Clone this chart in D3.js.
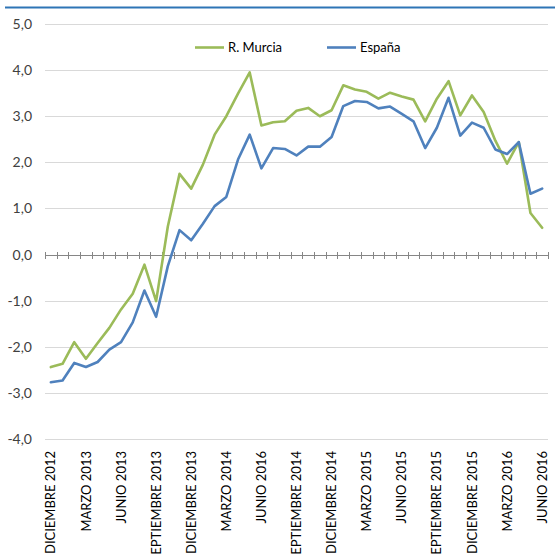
<!DOCTYPE html>
<html><head><meta charset="utf-8">
<script src="https://cdn.jsdelivr.net/npm/d3@7"></script>
<style>
html,body{margin:0;padding:0;background:#fff;}
svg{display:block;font-family:Lato,"Open Sans",sans-serif;}
</style></head>
<body>
<svg id="c" width="555" height="554"></svg>
<script>
const months = ["ENERO","FEBRERO","MARZO","ABRIL","MAYO","JUNIO","JULIO","AGOSTO","SEPTIEMBRE","OCTUBRE","NOVIEMBRE","DICIEMBRE"];
const categories = [];
categories.push("DICIEMBRE 2012");
for (const yr of [2013, 2014, 2015]) for (const m of months) categories.push(m + " " + yr);
for (const m of months.slice(0, 6)) categories.push(m + " 2016");

// tick labels as printed in the original chart (note "JUNIO 2016" typo at the 7th label)
const tickLabels = ["DICIEMBRE 2012","MARZO 2013","JUNIO 2013","SEPTIEMBRE 2013","DICIEMBRE 2013","MARZO 2014","JUNIO 2016","SEPTIEMBRE 2014","DICIEMBRE 2014","MARZO 2015","JUNIO 2015","SEPTIEMBRE 2015","DICIEMBRE 2015","MARZO 2016","JUNIO 2016"];

const murcia = [-2.44,-2.37,-1.90,-2.26,-1.92,-1.59,-1.19,-0.85,-0.22,-1.01,0.61,
 1.75,1.43,1.95,2.60,3.00,3.49,3.95,2.80,2.87,2.89,3.12,
 3.18,3.00,3.13,3.67,3.58,3.53,3.38,3.51,3.43,3.36,2.89,
 3.38,3.76,3.02,3.45,3.09,2.47,1.97,2.44,0.90,0.58];
const espana = [-2.77,-2.73,-2.35,-2.44,-2.33,-2.06,-1.90,-1.47,-0.78,-1.35,-0.25,
 0.53,0.31,0.67,1.05,1.25,2.06,2.60,1.87,2.31,2.29,2.15,
 2.34,2.34,2.55,3.22,3.33,3.31,3.17,3.21,3.05,2.89,2.31,
 2.75,3.40,2.58,2.86,2.75,2.28,2.18,2.44,1.32,1.43];

const yTicks = [-4,-3,-2,-1,0,1,2,3,4,5];
const seriesNames = ["R. Murcia", "España"];
const seriesColors = ["#9BBB59", "#4F81BD"];
const series = [
  {name:seriesNames[0], values:murcia, color:seriesColors[0]},
  {name:seriesNames[1], values:espana, color:seriesColors[1]}
];

(function draw(){
const svg = d3.select("#c");
const pLeft = 45, pRight = 548, pTop = 24, pBottom = 439;

const x = d3.scaleBand().domain(categories).range([pLeft, pRight]).padding(0);
const y = d3.scaleLinear().domain([-4, 5]).range([pBottom, pTop]);

// top rule
svg.append("line").attr("x1",5).attr("x2",555).attr("y1",7.5).attr("y2",7.5)
  .attr("stroke","#2E75B6").attr("stroke-width",2);

// gridlines
svg.append("g").selectAll("line").data(yTicks.filter(d=>d!==0)).join("line")
  .attr("x1",pLeft).attr("x2",pRight)
  .attr("y1",d=>Math.round(y(d))+0.5).attr("y2",d=>Math.round(y(d))+0.5)
  .attr("stroke","#D9D9D9").attr("stroke-width",1);

// y axis labels
const yAxis = d3.axisLeft(y).tickValues(yTicks).tickSize(0).tickPadding(0)
  .tickFormat(d => d3.format(".1f")(d).replace(".", ",").replace("−","-"));
const gy = svg.append("g").attr("transform",`translate(${pLeft-13},0)`).call(yAxis);
gy.select(".domain").remove();
gy.selectAll("text").attr("font-size",14).attr("fill","#404040")
  .attr("font-family","Lato,'Open Sans',sans-serif");

// x axis line at 0 with tick marks between categories
const y0 = Math.round(y(0)) + 0.5;
svg.append("line").attr("x1",pLeft).attr("x2",pRight).attr("y1",y0).attr("y2",y0)
  .attr("stroke","#868686").attr("stroke-width",1);
const bounds = categories.map(c => x(c)).concat([pRight]);
svg.append("g").selectAll("line").data(bounds).join("line")
  .attr("x1",d=>Math.round(d)+0.5).attr("x2",d=>Math.round(d)+0.5)
  .attr("y1",y0-3.5).attr("y2",y0+3.5)
  .attr("stroke","#868686").attr("stroke-width",1);

// x labels at bottom
const labelCats = categories.filter((c,i)=>i%3===0);
const xAxis = d3.axisBottom(x).tickValues(labelCats).tickSize(0)
  .tickFormat((d,i)=>tickLabels[i]);
const gx = svg.append("g").attr("transform",`translate(0,${pBottom})`).call(xAxis);
gx.select(".domain").remove();
gx.selectAll("text")
  .attr("transform","rotate(-90)")
  .attr("text-anchor","end")
  .attr("x",-12).attr("y",0).attr("dy","0.35em")
  .attr("font-size",13).attr("fill","#000")
  .attr("font-family","Lato,'Open Sans',sans-serif");

// lines
const line = d3.line().x((d,i)=>x(categories[i]) + x.bandwidth()/2).y(d=>y(d));
svg.append("g").selectAll("path").data(series).join("path")
  .attr("d",d=>line(d.values)).attr("fill","none")
  .attr("stroke",d=>d.color).attr("stroke-width",2.6)
  .attr("stroke-linejoin","round").attr("stroke-linecap","round");

// legend
const legendPos = [195, 327];
const lg = svg.append("g").selectAll("g").data(series).join("g")
  .attr("transform",(d,i)=>`translate(${legendPos[i]},47.5)`);
lg.append("line").attr("x1",0).attr("x2",29).attr("y1",0).attr("y2",0)
  .attr("stroke",d=>d.color).attr("stroke-width",2.6);
lg.append("text").attr("x",33).attr("y",0).attr("dy","0.35em")
  .attr("font-size",13).attr("fill","#000").text(d=>d.name);
})();
</script>
</body></html>
